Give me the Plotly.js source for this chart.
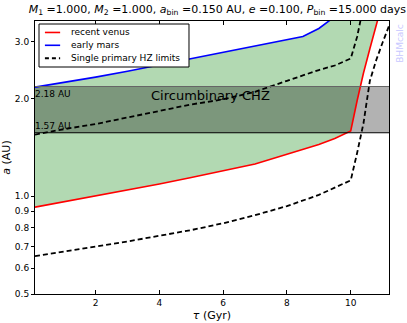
<!DOCTYPE html>
<html>
<head>
<meta charset="utf-8">
<script src="https://cdn.plot.ly/plotly-3.0.1.min.js"></script>
<style>
  html, body { margin: 0; padding: 0; background: #fff; }
  #chart { width: 407px; height: 323px; }
</style>
</head>
<body>
<div id="chart"></div>
<script>
// 資料：年齡 (Gyr) 與各 HZ 邊界 (AU)
const tau = [0.1, 1, 2, 3, 4, 5, 6, 7, 8, 8.5, 9, 9.5, 10, 10.2, 10.4, 10.6, 10.8, 11.0, 11.2];
const recentVenus = [0.926, 0.961, 1.001, 1.044, 1.091, 1.143, 1.196, 1.258, 1.348, 1.395, 1.445, 1.507, 1.59, 1.97, 2.4, 2.85, 3.35, 3.95, 4.7];
const earlyMars = [2.17, 2.24, 2.33, 2.43, 2.54, 2.65, 2.78, 2.91, 3.03, 3.11, 3.29, 3.58, 4.2, 4.6, 5.1, 5.6, 6.2, 6.8, 7.5];
const singleInner = [0.654, 0.675, 0.700, 0.726, 0.756, 0.787, 0.826, 0.875, 0.933, 0.97, 1.01, 1.064, 1.12, 1.36, 1.68, 2.27, 2.63, 2.98, 3.35];
const singleOuter = [1.55, 1.61, 1.67, 1.75, 1.83, 1.92, 1.99, 2.10, 2.27, 2.36, 2.45, 2.53, 2.66, 3.1, 4.0, 5.0, 6.0, 7.0, 8.0];

// 環雙星 CHZ 邊界
const chzInner = 1.57;
const chzOuter = 2.18;

const yTickVals = [0.5, 0.6, 0.7, 0.8, 0.9, 1.0, 2.0, 3.0];
const yTickText = ['0.5', '0.6', '0.7', '0.8', '0.9', '1.0', '2.0', '3.0'];
const xTickVals = [2, 4, 6, 8, 10];

// 圖例項目
const legendNames = ['recent venus', 'early mars', 'Single primary HZ limits'];
const legendColors = ['#ff0000', '#0000ff', '#000000'];
const legendDash = ['solid', 'solid', '4px,3px'];

const xRange = [0.1, 11.2];
const yRange = [0.5, 3.47];

const font = 'DejaVu Sans, sans-serif';
const dashed = { color: '#000', width: 1.8, dash: '5px,3px' };

const traces = [
    // 綠色填色（recent venus 到 early mars）
    {
        x: tau, y: recentVenus, type: 'scatter', mode: 'lines',
        line: { width: 0 }, hoverinfo: 'skip'
    },
    {
        x: tau, y: earlyMars, type: 'scatter', mode: 'lines',
        line: { width: 0 }, fill: 'tonexty', fillcolor: 'rgba(0,128,0,0.3)',
        hoverinfo: 'skip'
    },
    // 灰色 CHZ 帶
    {
        x: [xRange[0], xRange[1], xRange[1], xRange[0]],
        y: [chzInner, chzInner, chzOuter, chzOuter],
        type: 'scatter', mode: 'lines', line: { width: 0 },
        fill: 'toself', fillcolor: 'rgba(0,0,0,0.3)', hoverinfo: 'skip'
    },
    {
        x: tau, y: recentVenus, type: 'scatter', mode: 'lines',
        name: legendNames[0], line: { color: legendColors[0], width: 1.6 }
    },
    {
        x: tau, y: earlyMars, type: 'scatter', mode: 'lines',
        name: legendNames[1], line: { color: legendColors[1], width: 1.6 }
    },
    { x: tau, y: singleInner, type: 'scatter', mode: 'lines', name: legendNames[2], line: dashed },
    { x: tau, y: singleOuter, type: 'scatter', mode: 'lines', name: legendNames[2], line: dashed }
];

// 手動圖例（比 Plotly 內建圖例更緊湊）
const legendBox = { x0: 0.0113, x1: 0.435, y0: 0.8315, y1: 0.989 };
const legendRows = [0.958, 0.911, 0.864];

const shapes = [
    {
        type: 'line', xref: 'paper', yref: 'y', x0: 0, x1: 1,
        y0: chzInner, y1: chzInner, layer: 'above',
        line: { color: '#000', width: 1 }
    },
    {
        type: 'line', xref: 'paper', yref: 'y', x0: 0, x1: 1,
        y0: chzOuter, y1: chzOuter, layer: 'above',
        line: { color: '#666', width: 1 }
    },
    {
        type: 'rect', xref: 'paper', yref: 'paper',
        x0: legendBox.x0, x1: legendBox.x1, y0: legendBox.y0, y1: legendBox.y1,
        fillcolor: '#fff', line: { color: '#000', width: 1 }, layer: 'above'
    }
];

const annotations = [
    {
        text: chzOuter.toFixed(2) + ' AU', xref: 'paper', yref: 'y',
        x: 0, y: Math.log10(chzOuter), xanchor: 'left', yanchor: 'top',
        xshift: -2, showarrow: false, font: { size: 9, color: '#000' }
    },
    {
        text: chzInner.toFixed(2) + ' AU', xref: 'paper', yref: 'y',
        x: 0, y: Math.log10(chzInner), xanchor: 'left', yanchor: 'bottom',
        xshift: -2, showarrow: false, font: { size: 9, color: '#000' }
    },
    {
        text: 'Circumbinary CHZ', xref: 'x', yref: 'y',
        x: 5.6, y: Math.log10(2.04), xanchor: 'center', yanchor: 'middle',
        showarrow: false, font: { size: 13, color: '#000' }
    },
    {
        text: 'BHMcalc', xref: 'paper', yref: 'paper',
        x: 1.031, y: 0.92, xanchor: 'center', yanchor: 'middle',
        textangle: -90, showarrow: false,
        font: { size: 9, color: '#c8c8ff' }
    }
];

legendNames.forEach((name, i) => {
    shapes.push({
        type: 'line', xref: 'paper', yref: 'paper',
        x0: 0.028, x1: 0.071, y0: legendRows[i], y1: legendRows[i], layer: 'above',
        line: { color: legendColors[i], width: i === 2 ? 2 : 1.6, dash: legendDash[i] }
    });
    annotations.push({
        text: name, xref: 'paper', yref: 'paper',
        x: 0.097, y: legendRows[i], xanchor: 'left', yanchor: 'middle',
        showarrow: false, font: { size: 9, color: '#000' }
    });
});

const layout = {
    width: 407,
    height: 323,
    margin: { l: 35, r: 18, t: 21, b: 29 },
    paper_bgcolor: '#fff',
    plot_bgcolor: '#fff',
    showlegend: false,
    font: { family: font, size: 9, color: '#000' },
    title: {
        text: '<i>M</i><sub>1</sub> =1.000, <i>M</i><sub>2</sub> =1.000, <i>a</i><sub>bin</sub> =0.150 AU, <i>e</i> =0.100, <i>P</i><sub>bin</sub> =15.000 days',
        font: { family: font, size: 11, color: '#000' },
        x: 0.515, xref: 'paper', xanchor: 'center',
        y: 0.985, yref: 'container', yanchor: 'top'
    },
    xaxis: {
        range: xRange,
        tickvals: xTickVals,
        ticks: 'inside', ticklen: 4, tickcolor: '#000',
        showline: true, linecolor: '#000', linewidth: 1, mirror: 'ticks',
        showgrid: false, zeroline: false,
        tickfont: { size: 9 },
        title: { text: '<i>τ</i> (Gyr)', font: { size: 11 }, standoff: 4 }
    },
    yaxis: {
        type: 'log',
        range: [Math.log10(yRange[0]), Math.log10(yRange[1])],
        tickvals: yTickVals, ticktext: yTickText,
        ticks: 'outside', ticklen: 3, tickcolor: '#000',
        showline: true, linecolor: '#000', linewidth: 1, mirror: true,
        showgrid: false, zeroline: false,
        tickfont: { size: 9 },
        title: { text: '<i>a</i> (AU)', font: { size: 11 }, standoff: 3 }
    },
    shapes: shapes,
    annotations: annotations
};

Plotly.newPlot('chart', traces, layout, { displayModeBar: false, responsive: false });
</script>
</body>
</html>
